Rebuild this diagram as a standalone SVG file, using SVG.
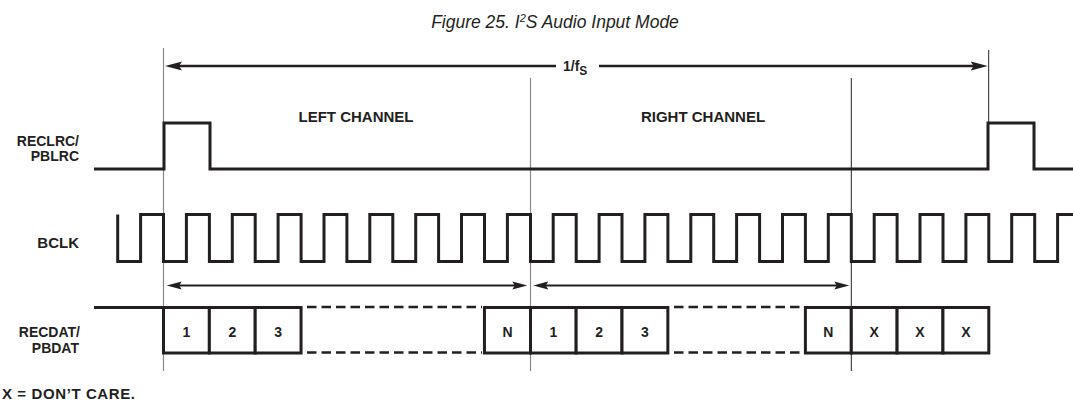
<svg xmlns="http://www.w3.org/2000/svg" width="1073" height="404" viewBox="0 0 1073 404">
<style>
.t{font-family:"Liberation Sans",Arial,sans-serif;font-weight:bold;fill:#231f20}
.lbl{font-size:15px;text-anchor:end}
.lb2{font-size:14px;text-anchor:end}
.ch{font-size:15px;text-anchor:middle}
.num{font-size:14px;text-anchor:middle}
.title{font-family:"Liberation Sans",Arial,sans-serif;font-style:italic;font-size:17.5px;fill:#231f20;text-anchor:middle}
.wave{fill:none;stroke:#231f20;stroke-width:3;stroke-linejoin:miter}
.cell{fill:#fff;stroke:#231f20;stroke-width:3}
.dash{fill:none;stroke:#231f20;stroke-width:2.5;stroke-dasharray:9.5 5}
.gl{fill:none;stroke:#888;stroke-width:1.2}
.gd{fill:none;stroke:#222;stroke-width:1}
.arr{fill:none;stroke:#231f20;stroke-width:2.5}
.arr2{fill:none;stroke:#231f20;stroke-width:2}
</style>
<defs>
<marker id="ah" markerUnits="userSpaceOnUse" viewBox="0 -6 18 12" refX="7" refY="0" markerWidth="18" markerHeight="12" orient="auto-start-reverse">
<path d="M17,0 L0,-4.5 L3,0 L0,4.5 Z" fill="#231f20"/>
</marker>
<marker id="ah2" markerUnits="userSpaceOnUse" viewBox="0 -6 16 12" refX="6" refY="0" markerWidth="16" markerHeight="12" orient="auto-start-reverse">
<path d="M15,0 L0,-4 L2.5,0 L0,4 Z" fill="#231f20"/>
</marker>
</defs>

<text class="title" x="555" y="28">Figure 25. I<tspan font-size="11" dy="-6">2</tspan><tspan dy="6">S Audio Input Mode</tspan></text>

<g id="guides">
<line class="gl" x1="163.5" y1="48" x2="163.5" y2="371"/>
<line class="gl" x1="530.5" y1="78" x2="530.5" y2="371"/>
<line class="gd" x1="851.3" y1="78" x2="851.3" y2="371"/>
<line class="gd" x1="988.7" y1="50" x2="988.7" y2="123"/>
</g>

<g id="connectors">
<line class="arr" x1="175" y1="66" x2="556" y2="66" marker-start="url(#ah)"/>
<line class="arr" x1="599" y1="66" x2="977.7" y2="66" marker-end="url(#ah)"/>
<line class="arr2" x1="175.7" y1="285.5" x2="518.3" y2="285.5" marker-start="url(#ah2)" marker-end="url(#ah2)"/>
<line class="arr2" x1="542.3" y1="285.5" x2="840.3" y2="285.5" marker-start="url(#ah2)" marker-end="url(#ah2)"/>
</g>

<g id="period-label">
<text class="t" font-size="14" x="563" y="71">1/f<tspan font-size="12" dy="4.3">S</tspan></text>
</g>

<g id="channel-labels">
<text class="t ch" x="356" y="122">LEFT CHANNEL</text>
<text class="t ch" x="703" y="122">RIGHT CHANNEL</text>
</g>

<g id="lrc">
<text class="t lb2" x="79" y="145.5">RECLRC/</text>
<text class="t lb2" x="79" y="161.3">PBLRC</text>
<path class="wave" d="M94,169 H164 V123 H210 V169 H988 V123 H1034 V169 H1073"/>
</g>

<g id="bclk">
<text class="t lbl" x="79" y="247.5">BCLK</text>
<path class="wave" d="M117.7,214.5 V261.5 H140.6 V214.5 H163.5 V261.5 H186.4 V214.5 H209.4 V261.5 H232.3 V214.5 H255.2 V261.5 H278.1 V214.5 H301.1 V261.5 H324 V214.5 H346.9 V261.5 H369.8 V214.5 H392.8 V261.5 H415.7 V214.5 H438.6 V261.5 H461.5 V214.5 H484.5 V261.5 H507.4 V214.5 H530.5 V261.5 H553.2 V214.5 H576.2 V261.5 H599.1 V214.5 H622 V261.5 H644.9 V214.5 H667.9 V261.5 H690.8 V214.5 H713.7 V261.5 H736.6 V214.5 H759.6 V261.5 H782.5 V214.5 H805.4 V261.5 H828.3 V214.5 H851.3 V261.5 H874.2 V214.5 H897.1 V261.5 H920 V214.5 H943 V261.5 H965.9 V214.5 H988.8 V261.5 H1011.7 V214.5 H1034.7 V261.5 H1057.6 V214.5 H1073"/>
</g>

<g id="data">
<text class="t lb2" x="80" y="337">RECDAT/</text>
<text class="t lb2" x="79" y="352.8">PBDAT</text>
<path class="wave" d="M94,307.5 H163.5"/>
<rect class="cell" x="163.5" y="307.5" width="45.85" height="45.5"/>
<rect class="cell" x="209.35" y="307.5" width="45.85" height="45.5"/>
<rect class="cell" x="255.2" y="307.5" width="45.85" height="45.5"/>
<line class="dash" x1="307" y1="307" x2="482" y2="307"/>
<line class="dash" x1="307" y1="352.5" x2="482" y2="352.5"/>
<rect class="cell" x="484.45" y="307.5" width="46.05" height="45.5"/>
<rect class="cell" x="530.5" y="307.5" width="45.65" height="45.5"/>
<rect class="cell" x="576.15" y="307.5" width="45.85" height="45.5"/>
<rect class="cell" x="622" y="307.5" width="45.85" height="45.5"/>
<line class="dash" x1="674" y1="307" x2="800" y2="307"/>
<line class="dash" x1="674" y1="352.5" x2="800" y2="352.5"/>
<rect class="cell" x="805.4" y="307.5" width="45.9" height="45.5"/>
<rect class="cell" x="851.3" y="307.5" width="45.8" height="45.5"/>
<rect class="cell" x="897.1" y="307.5" width="45.85" height="45.5"/>
<rect class="cell" x="942.95" y="307.5" width="45.85" height="45.5"/>
<text class="t num" x="186.4" y="336.7">1</text>
<text class="t num" x="232.3" y="336.7">2</text>
<text class="t num" x="278.1" y="336.7">3</text>
<text class="t num" x="507.5" y="336.7">N</text>
<text class="t num" x="553.3" y="336.7">1</text>
<text class="t num" x="599.1" y="336.7">2</text>
<text class="t num" x="644.9" y="336.7">3</text>
<text class="t num" x="828.3" y="336.7">N</text>
<text class="t num" x="874.2" y="336.7">X</text>
<text class="t num" x="920" y="336.7">X</text>
<text class="t num" x="965.9" y="336.7">X</text>
</g>

<text class="t" font-size="15" x="2" y="399" textLength="133">X = DON’T CARE.</text>
</svg>
